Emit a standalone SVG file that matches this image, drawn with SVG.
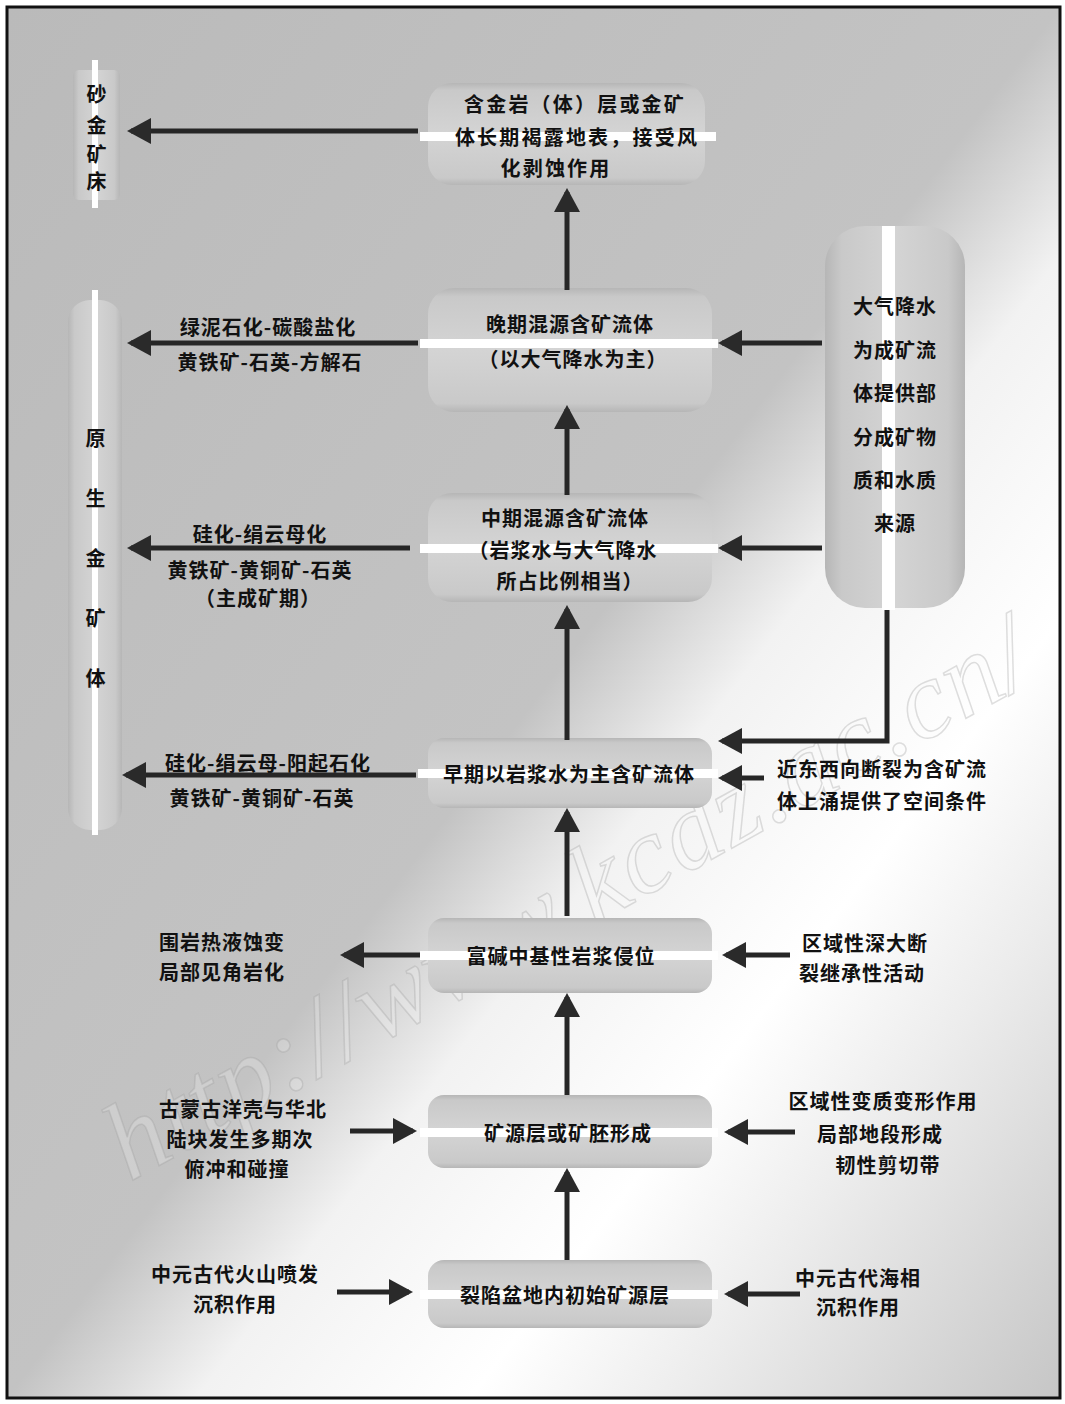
<svg xmlns="http://www.w3.org/2000/svg" width="1065" height="1404" viewBox="0 0 1065 1404">
<style>
.t{font-family:"Noto Sans CJK SC","Noto Sans CJK JP",sans-serif;font-size:20px;font-weight:700;fill:#111;text-anchor:middle;dominant-baseline:central;letter-spacing:1px}
.w{letter-spacing:2.2px}
.ln{stroke:#262626;stroke-width:5;fill:none;marker-end:url(#ah)}
.hbox{fill:url(#cyl)}
.vbox{fill:url(#vcyl)}
.stripe{fill:#fff}
.wm{font-family:"Liberation Serif",serif;font-style:italic;font-size:110px;fill:#fff;fill-opacity:0.2;stroke:#9a9a9a;stroke-opacity:0.32;stroke-width:1.5}
</style>
<defs>
<linearGradient id="bg" x1="0" y1="0" x2="1" y2="1">
<stop offset="0" stop-color="#bababa"/>
<stop offset="0.5" stop-color="#c3c3c3"/>
<stop offset="0.59" stop-color="#f2f2f2"/>
<stop offset="0.72" stop-color="#ffffff"/>
<stop offset="0.82" stop-color="#ececec"/>
<stop offset="1" stop-color="#c6c6c6"/>
</linearGradient>
<linearGradient id="cyl" x1="0" y1="0" x2="0" y2="1">
<stop offset="0" stop-color="#b6b6b6"/>
<stop offset="0.07" stop-color="#c9c9c9"/>
<stop offset="0.5" stop-color="#d4d4d4"/>
<stop offset="0.93" stop-color="#c9c9c9"/>
<stop offset="1" stop-color="#b6b6b6"/>
</linearGradient>
<linearGradient id="vcyl" x1="0" y1="0" x2="1" y2="0">
<stop offset="0" stop-color="#b6b6b6"/>
<stop offset="0.12" stop-color="#c9c9c9"/>
<stop offset="0.5" stop-color="#d4d4d4"/>
<stop offset="0.88" stop-color="#c9c9c9"/>
<stop offset="1" stop-color="#b6b6b6"/>
</linearGradient>
<marker id="ah" viewBox="0 0 24 26" refX="20" refY="13" markerWidth="24" markerHeight="26" markerUnits="userSpaceOnUse" orient="auto">
<path d="M0,0 L24,13 L0,26 z" fill="#2a2a2a"/>
</marker>
</defs>

<rect x="7" y="7" width="1053" height="1391" fill="url(#bg)" stroke="#111" stroke-width="3"/>

<text class="wm" transform="translate(565,895) rotate(-29)" x="-520" y="40" textLength="1040" lengthAdjust="spacing">http://www.kcdz.ac.cn/</text>

<g id="n-shajin">
<rect class="vbox" x="73" y="70" width="47" height="130" rx="6"/>
<rect class="stripe" x="92" y="60" width="6" height="148"/>
<text class="t" x="97" y="93">砂</text>
<text class="t" x="97" y="124">金</text>
<text class="t" x="97" y="153">矿</text>
<text class="t" x="97" y="180">床</text>
</g>

<g id="n-yuansheng">
<rect class="vbox" x="68" y="300" width="54" height="530" rx="22"/>
<rect class="stripe" x="92" y="290" width="6" height="545"/>
<text class="t" x="96" y="437">原</text>
<text class="t" x="96" y="497">生</text>
<text class="t" x="96" y="557">金</text>
<text class="t" x="96" y="617">矿</text>
<text class="t" x="96" y="677">体</text>
</g>

<g id="n-daqi">
<rect class="vbox" x="825" y="226" width="140" height="382" rx="40"/>
<rect class="stripe" x="882" y="226" width="13" height="384"/>
<text class="t" x="895" y="305">大气降水</text>
<text class="t" x="895" y="349">为成矿流</text>
<text class="t" x="895" y="392">体提供部</text>
<text class="t" x="895" y="436">分成矿物</text>
<text class="t" x="895" y="479">质和水质</text>
<text class="t" x="895" y="522">来源</text>
</g>

<g id="n1">
<rect class="hbox" x="428" y="83" width="277" height="102" rx="24"/>
<rect class="stripe" x="420" y="132" width="296" height="9"/>
<text class="t w" x="575" y="103">含金岩（体）层或金矿</text>
<text class="t w" x="577" y="136">体长期褐露地表，接受风</text>
<text class="t w" x="556" y="167">化剥蚀作用</text>
</g>

<g id="n2">
<rect class="hbox" x="428" y="288" width="284" height="124" rx="26"/>
<rect class="stripe" x="420" y="339" width="298" height="9"/>
<text class="t" x="570" y="323">晚期混源含矿流体</text>
<text class="t" x="573" y="358">（以大气降水为主）</text>
</g>

<g id="n3">
<rect class="hbox" x="428" y="493" width="284" height="109" rx="24"/>
<rect class="stripe" x="420" y="544" width="298" height="9"/>
<text class="t" x="565" y="517">中期混源含矿流体</text>
<text class="t" x="563" y="549">（岩浆水与大气降水</text>
<text class="t" x="570" y="580">所占比例相当）</text>
</g>

<g id="n4">
<rect class="hbox" x="428" y="738" width="284" height="70" rx="16"/>
<rect class="stripe" x="418" y="769" width="300" height="9"/>
<text class="t" x="569" y="773">早期以岩浆水为主含矿流体</text>
</g>

<g id="n5">
<rect class="hbox" x="428" y="918" width="284" height="75" rx="16"/>
<rect class="stripe" x="420" y="951" width="298" height="9"/>
<text class="t" x="561" y="955">富碱中基性岩浆侵位</text>
</g>

<g id="n6">
<rect class="hbox" x="428" y="1095" width="284" height="73" rx="16"/>
<rect class="stripe" x="420" y="1128" width="298" height="9"/>
<text class="t" x="568" y="1132">矿源层或矿胚形成</text>
</g>

<g id="n7">
<rect class="hbox" x="428" y="1260" width="284" height="68" rx="16"/>
<rect class="stripe" x="420" y="1290" width="298" height="9"/>
<text class="t" x="565" y="1294">裂陷盆地内初始矿源层</text>
</g>

<g id="l-lvni">
<text class="t" x="268" y="326">绿泥石化-碳酸盐化</text>
<text class="t" x="270" y="361">黄铁矿-石英-方解石</text>
</g>
<g id="l-guihua1">
<text class="t" x="260" y="533">硅化-绢云母化</text>
<text class="t" x="260" y="569">黄铁矿-黄铜矿-石英</text>
<text class="t" x="258" y="597">（主成矿期）</text>
</g>
<g id="l-guihua2">
<text class="t" x="268" y="762">硅化-绢云母-阳起石化</text>
<text class="t" x="262" y="797">黄铁矿-黄铜矿-石英</text>
</g>
<g id="l-weiyan">
<text class="t" x="222" y="941">围岩热液蚀变</text>
<text class="t" x="222" y="971">局部见角岩化</text>
</g>
<g id="l-gumeng">
<text class="t" x="243" y="1108">古蒙古洋壳与华北</text>
<text class="t" x="240" y="1138">陆块发生多期次</text>
<text class="t" x="237" y="1168">俯冲和碰撞</text>
</g>
<g id="l-huoshan">
<text class="t" x="235" y="1273">中元古代火山喷发</text>
<text class="t" x="235" y="1303">沉积作用</text>
</g>

<g id="r-dongxi">
<text class="t" x="882" y="768">近东西向断裂为含矿流</text>
<text class="t" x="882" y="800">体上涌提供了空间条件</text>
</g>
<g id="r-shenda">
<text class="t" x="865" y="942">区域性深大断</text>
<text class="t" x="862" y="972">裂继承性活动</text>
</g>
<g id="r-bianzhi">
<text class="t" x="883" y="1100">区域性变质变形作用</text>
<text class="t" x="880" y="1133">局部地段形成</text>
<text class="t" x="888" y="1164">韧性剪切带</text>
</g>
<g id="r-haixiang">
<text class="t" x="858" y="1277">中元古代海相</text>
<text class="t" x="858" y="1306">沉积作用</text>
</g>

<g id="connectors">
<path class="ln" d="M418,131 H131"/>
<path class="ln" d="M567,290 V192"/>
<path class="ln" d="M418,343 H131"/>
<path class="ln" d="M822,343 H722"/>
<path class="ln" d="M567,495 V409"/>
<path class="ln" d="M410,548 H131"/>
<path class="ln" d="M822,548 H722"/>
<path class="ln" d="M567,740 V609"/>
<path class="ln" d="M887,610 V741 H722"/>
<path class="ln" d="M764,778 H722"/>
<path class="ln" d="M416,775 H126"/>
<path class="ln" d="M567,916 V812"/>
<path class="ln" d="M420,955 H344"/>
<path class="ln" d="M790,955 H726"/>
<path class="ln" d="M567,1095 V997"/>
<path class="ln" d="M350,1131 H413"/>
<path class="ln" d="M795,1132 H728"/>
<path class="ln" d="M567,1260 V1172"/>
<path class="ln" d="M337,1292 H409"/>
<path class="ln" d="M800,1294 H728"/>
</g>
</svg>
